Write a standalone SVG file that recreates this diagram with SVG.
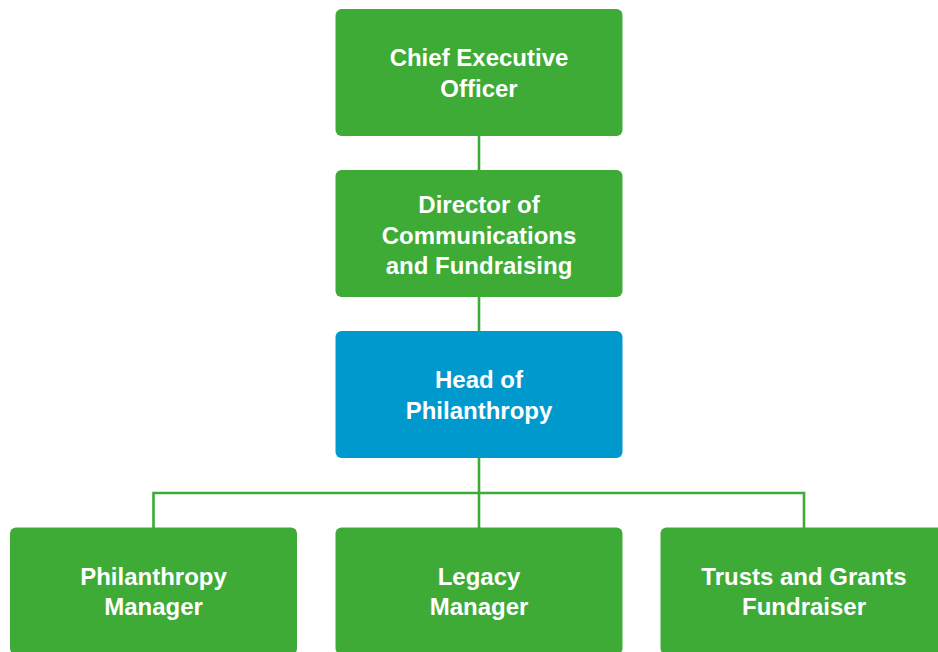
<svg xmlns="http://www.w3.org/2000/svg" width="938" height="652" viewBox="0 0 938 652">
<style>
.box{fill:#3dab36;}
.blue{fill:#0099cd;}
.lbl{font-family:"Liberation Sans",Arial,sans-serif;font-size:24px;font-weight:bold;fill:#ffffff;text-anchor:middle;}
.conn{stroke:#3dab36;stroke-width:2.6;fill:none;}
</style>
<rect width="938" height="652" fill="#ffffff"/>
<g id="connectors">
<line class="conn" x1="479" y1="136" x2="479" y2="170"/>
<line class="conn" x1="479" y1="297" x2="479" y2="331"/>
<line class="conn" x1="479" y1="458" x2="479" y2="528"/>
<polyline class="conn" points="153.5,528 153.5,493 804,493 804,528"/>
</g>
<g id="ceo">
<rect class="box" x="335.5" y="9" width="287" height="127" rx="6"/>
<text class="lbl" x="479" y="65.5">Chief Executive</text>
<text class="lbl" x="479" y="96.5">Officer</text>
</g>
<g id="director">
<rect class="box" x="335.5" y="170" width="287" height="127" rx="6"/>
<text class="lbl" x="479" y="213.3">Director of</text>
<text class="lbl" x="479" y="243.5">Communications</text>
<text class="lbl" x="479" y="273.7">and Fundraising</text>
</g>
<g id="head">
<rect class="blue" x="335.5" y="331" width="287" height="127" rx="6"/>
<text class="lbl" x="479" y="388">Head of</text>
<text class="lbl" x="479" y="418.5">Philanthropy</text>
</g>
<g id="philanthropy-manager">
<rect class="box" x="10" y="527.5" width="287" height="127" rx="6"/>
<text class="lbl" x="153.5" y="584.5">Philanthropy</text>
<text class="lbl" x="153.5" y="615">Manager</text>
</g>
<g id="legacy-manager">
<rect class="box" x="335.5" y="527.5" width="287" height="127" rx="6"/>
<text class="lbl" x="479" y="584.5">Legacy</text>
<text class="lbl" x="479" y="615">Manager</text>
</g>
<g id="trusts-grants">
<rect class="box" x="660.5" y="527.5" width="287" height="127" rx="6"/>
<text class="lbl" x="804" y="584.5">Trusts and Grants</text>
<text class="lbl" x="804" y="615">Fundraiser</text>
</g>
</svg>
